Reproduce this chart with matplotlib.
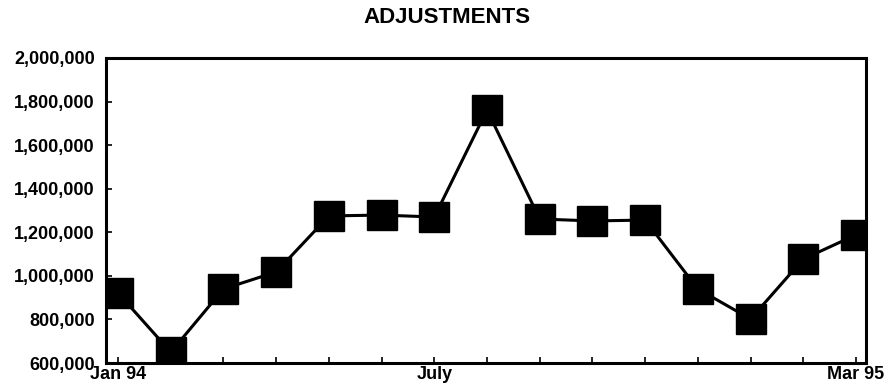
import matplotlib.pyplot as plt
from matplotlib.ticker import FuncFormatter

plt.rcParams['font.family'] = ['Liberation Sans', 'DejaVu Sans']
plt.rcParams['font.weight'] = 'bold'

# monthly adjustments, Jan 94 through Mar 95
months = ['Jan 94', 'Feb', 'Mar', 'Apr', 'May', 'Jun', 'July', 'Aug',
          'Sep', 'Oct', 'Nov', 'Dec', 'Jan 95', 'Feb 95', 'Mar 95']
shown_labels = ['Jan 94', 'July', 'Mar 95']
adjustments = [921000, 650000, 940000, 1018000, 1275000, 1279000, 1270000,
               1761000, 1261000, 1252000, 1256000, 940000, 802000, 1077000,
               1188000]
y_ticks = [600000, 800000, 1000000, 1200000, 1400000, 1600000, 1800000, 2000000]

fig = plt.figure(figsize=(8.86, 3.89), dpi=100)
ax = fig.add_axes([0.1196, 0.0668, 0.8578, 0.7842])

x = list(range(len(months)))
ax.plot(x, adjustments, color='black', linewidth=2.2, marker='s',
        markersize=21, markerfacecolor='black', markeredgecolor='black',
        zorder=3)

ax.set_xlim(-0.23, len(months) - 1 + 0.19)
ax.set_ylim(600000, 2000000)
ax.set_yticks(y_ticks)
ax.yaxis.set_major_formatter(FuncFormatter(lambda v, _: f'{int(v):,}'))

ax.set_xticks(x)
ax.set_xticklabels([m if m in shown_labels else '' for m in months])

ax.tick_params(axis='both', direction='in', length=4, width=1.2,
               labelsize=13, pad=2)
ax.tick_params(axis='y', pad=8)
for lbl in ax.get_xticklabels() + ax.get_yticklabels():
    lbl.set_fontweight('bold')

for side in ['top', 'bottom', 'left', 'right']:
    ax.spines[side].set_linewidth(2.2)

fig.text(0.505, 0.955, 'ADJUSTMENTS', ha='center', va='center',
         fontsize=16, fontweight='bold')

fig.savefig('out.png', dpi=100)
